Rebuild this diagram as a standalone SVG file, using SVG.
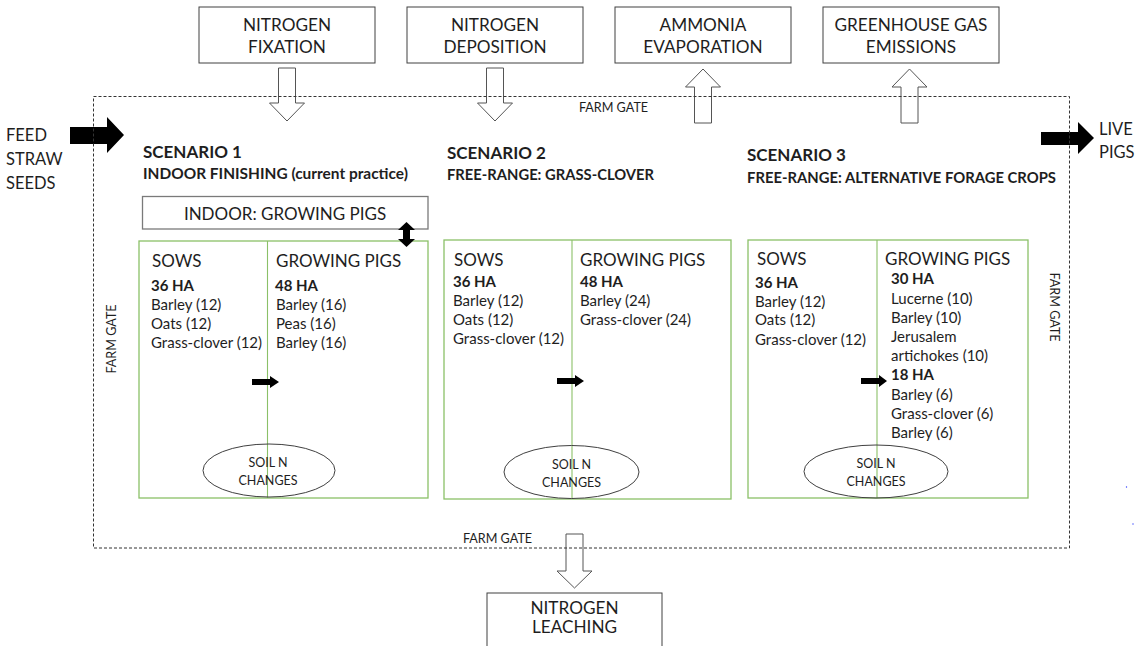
<svg xmlns="http://www.w3.org/2000/svg" width="1139" height="646" viewBox="0 0 1139 646">
<style>
text{font-family:Lato,"Liberation Sans",sans-serif;fill:#1e1e1e}
.box{fill:#fff;stroke:#404040;stroke-width:1}
.gbox{fill:none;stroke:#8bc068;stroke-width:1.3}
.div{stroke:#8bc068;stroke-width:1.1}
.hol{fill:#fff;stroke:#555;stroke-width:1}
.blk{fill:#000}
.gate{fill:none;stroke:#333;stroke-width:1;stroke-dasharray:3 2}
.ell{fill:none;stroke:#404040;stroke-width:1}
.big{font-size:17.2px}
.io{font-size:16.5px}
.c{text-anchor:middle}
.sc{font-size:17px;font-weight:bold}
.sub{font-size:15px;font-weight:bold}
.hd{font-size:17px}
.ha{font-size:15px;font-weight:bold}
.it{font-size:15px}
.sm{font-size:12.5px}
.fg{font-size:12.6px}
</style>
<g id="top-boxes">
<g id="n-fixation"><rect class="box" x="199" y="7" width="176" height="56"/><text class="big c" x="287" y="31">NITROGEN</text><text class="big c" x="287" y="53">FIXATION</text></g>
<g id="n-deposition"><rect class="box" x="407" y="7" width="176" height="56"/><text class="big c" x="495" y="31">NITROGEN</text><text class="big c" x="495" y="53">DEPOSITION</text></g>
<g id="ammonia"><rect class="box" x="615" y="7" width="176" height="56"/><text class="big c" x="703" y="31">AMMONIA</text><text class="big c" x="703" y="53">EVAPORATION</text></g>
<g id="ghg"><rect class="box" x="823" y="7" width="176" height="56"/><text class="big c" x="911" y="31">GREENHOUSE GAS</text><text class="big c" x="911" y="53">EMISSIONS</text></g>
</g>
<g id="n-leaching"><rect class="box" x="487" y="593" width="175" height="60"/><text class="big c" x="574.5" y="614">NITROGEN</text><text class="big c" x="574.5" y="633">LEACHING</text></g>
<g id="inputs"><text class="io" x="6" y="141">FEED</text><text class="io" x="6" y="165">STRAW</text><text class="io" x="6" y="189">SEEDS</text></g>
<g id="outputs"><text class="io" x="1099" y="135">LIVE</text><text class="io" x="1099" y="158">PIGS</text></g>
<g id="scenario1">
<text class="sc" x="143" y="158">SCENARIO 1</text>
<text class="sub" x="143" y="178.5" textLength="265" lengthAdjust="spacingAndGlyphs">INDOOR FINISHING (current practice)</text>
<g id="indoor"><rect x="142.5" y="196.5" width="285.5" height="32.5" fill="#fff" stroke="#7a7a7a" stroke-width="1.3"/><text class="hd c" x="285" y="219.5">INDOOR: GROWING PIGS</text></g>
<rect class="gbox" x="139" y="241" width="289" height="257"/>
<line class="div" x1="267.5" y1="241" x2="267.5" y2="498"/>
<text class="hd" x="152" y="266.5">SOWS</text>
<text class="hd" x="276" y="266.5">GROWING PIGS</text>
<text class="ha" x="151" y="290.5">36 HA</text>
<text class="it" x="151" y="309.5">Barley (12)</text>
<text class="it" x="151" y="328.5">Oats (12)</text>
<text class="it" x="151" y="347.5">Grass-clover (12)</text>
<text class="ha" x="275" y="290.5">48 HA</text>
<text class="it" x="276" y="309.5">Barley (16)</text>
<text class="it" x="276" y="328.5">Peas (16)</text>
<text class="it" x="276" y="347.5">Barley (16)</text>
<g id="soil1"><ellipse class="ell" cx="269" cy="470.5" rx="66" ry="26.5"/><text class="sm c" x="268" y="467">SOIL N</text><text class="sm c" x="268" y="485">CHANGES</text></g>
</g>
<g id="scenario2">
<text class="sc" x="447" y="159">SCENARIO 2</text>
<text class="sub" x="447" y="179.5" textLength="207" lengthAdjust="spacingAndGlyphs">FREE-RANGE: GRASS-CLOVER</text>
<rect class="gbox" x="444" y="240" width="287" height="259"/>
<line class="div" x1="572" y1="240" x2="572" y2="499"/>
<text class="hd" x="454" y="265.5">SOWS</text>
<text class="hd" x="580" y="265.5">GROWING PIGS</text>
<text class="ha" x="453" y="286.5">36 HA</text>
<text class="it" x="453" y="305.5">Barley (12)</text>
<text class="it" x="453" y="324.5">Oats (12)</text>
<text class="it" x="453" y="343.5">Grass-clover (12)</text>
<text class="ha" x="580" y="286.5">48 HA</text>
<text class="it" x="580" y="305.5">Barley (24)</text>
<text class="it" x="580" y="324.5">Grass-clover (24)</text>
<g id="soil2"><ellipse class="ell" cx="571.5" cy="472" rx="67.5" ry="26.5"/><text class="sm c" x="571.5" y="469">SOIL N</text><text class="sm c" x="571.5" y="487">CHANGES</text></g>
</g>
<g id="scenario3">
<text class="sc" x="747" y="161">SCENARIO 3</text>
<text class="sub" x="747" y="182.5" textLength="309" lengthAdjust="spacingAndGlyphs">FREE-RANGE: ALTERNATIVE FORAGE CROPS</text>
<rect class="gbox" x="748" y="240" width="280" height="258"/>
<line class="div" x1="877" y1="240" x2="877" y2="498"/>
<text class="hd" x="757" y="264.5">SOWS</text>
<text class="hd" x="885" y="264.5">GROWING PIGS</text>
<text class="ha" x="755" y="287.5">36 HA</text>
<text class="it" x="755" y="306.5">Barley (12)</text>
<text class="it" x="755" y="325">Oats (12)</text>
<text class="it" x="755" y="344.5">Grass-clover (12)</text>
<text class="ha" x="891" y="283.5">30 HA</text>
<text class="it" x="891" y="303.5">Lucerne (10)</text>
<text class="it" x="891" y="322.5">Barley (10)</text>
<text class="it" x="891" y="341.5">Jerusalem</text>
<text class="it" x="891" y="360.5">artichokes (10)</text>
<text class="ha" x="891" y="379.5">18 HA</text>
<text class="it" x="891" y="399.5">Barley (6)</text>
<text class="it" x="891" y="418.5">Grass-clover (6)</text>
<text class="it" x="891" y="437.5">Barley (6)</text>
<g id="soil3"><ellipse class="ell" cx="876" cy="471.5" rx="72" ry="26.5"/><text class="sm c" x="876" y="468">SOIL N</text><text class="sm c" x="876" y="486">CHANGES</text></g>
</g>
<g id="connectors">
<path class="hol" d="M278.5,68H295.5V103H304.5L287,121L269.5,103H278.5Z"/>
<path class="hol" d="M486.5,68H503.5V103H512.5L495,121L477.5,103H486.5Z"/>
<path class="hol" d="M694.5,123H711.5V87H720.5L703,69L685.5,87H694.5Z"/>
<path class="hol" d="M901,123H918V87H927L909.5,69L892,87H901Z"/>
<path class="hol" d="M566,534H583V571H592L574.5,588L557,571H566Z"/>
<path class="blk" d="M70,127H107V117L124,135L107,153V144H70Z"/>
<path class="blk" d="M1041,132H1078V122L1094,138L1078,154V145H1041Z"/>
<path class="blk" d="M406.5,222L415,230H410V239H415L406.5,247L398,239H403V230H398Z"/>
<path class="blk" d="M252,379H270V376L279,382L270,388V385H252Z"/>
<path class="blk" d="M557,378H575V375L584,381L575,387V384H557Z"/>
<path class="blk" d="M861,378H879V375L887,381L879,387V384H861Z"/>
</g>
<g id="farm-gate">
<rect class="gate" x="93.5" y="96.5" width="976" height="451.5"/>
<text class="fg c" x="613.5" y="111.5">FARM GATE</text>
<text class="fg c" x="497.5" y="542.5">FARM GATE</text>
<text class="fg c" transform="translate(115.5,339) rotate(-90)">FARM GATE</text>
<text class="fg c" transform="translate(1049.5,307) rotate(90)">FARM GATE</text>
</g>
<circle cx="1126.5" cy="487" r="0.7" fill="#3344ff"/>
<circle cx="1133" cy="524" r="0.7" fill="#3344ff"/>
</svg>
